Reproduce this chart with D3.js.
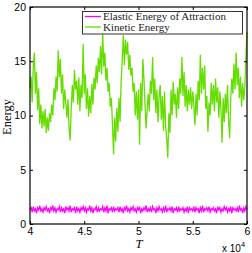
<!DOCTYPE html>
<html><head><meta charset="utf-8">
<script src="https://cdn.jsdelivr.net/npm/d3@7"></script>
<style>body{margin:0;background:#fff}svg{display:block}</style>
</head><body>
<svg id="c" width="252" height="253"></svg>
<script>
const tStart = 40000, tStep = 100;
const xTicks = [40000, 45000, 50000, 55000, 60000];
const xTickLabels = ["4", "4.5", "5", "5.5", "6"];
const yTicks = [0, 5, 10, 15, 20];
const seriesNames = ["Elastic Energy of Attraction", "Kinetic Energy"];
const kinetic = [
12.5,13.6,11.2,14.5,15.8,12.0,14.0,10.5,12.5,9.2,
11.0,8.8,10.4,9.0,10.6,8.4,9.8,8.6,10.2,9.4,
11.0,10.0,12.5,11.4,13.6,12.2,16.0,13.5,15.2,12.0,
13.8,10.6,12.4,11.2,9.8,11.5,8.9,7.7,10.6,12.8,
11.2,14.2,12.4,13.2,11.0,13.5,10.4,12.8,11.6,16.6,
12.0,13.8,10.6,12.5,9.9,11.8,10.2,12.9,11.0,13.5,
12.4,14.6,13.0,15.3,14.0,16.4,13.8,17.6,14.5,15.8,
13.2,14.4,12.2,13.0,10.8,11.6,9.2,6.4,9.8,7.6,
10.7,8.5,11.6,9.4,13.2,15.0,17.4,14.6,17.0,15.6,
16.8,14.2,15.6,13.7,14.4,12.2,13.0,10.0,12.2,9.6,
12.4,7.3,13.0,10.4,15.2,13.4,11.0,8.8,10.6,12.0,
10.4,13.2,12.0,15.4,11.4,13.4,10.2,12.4,9.4,11.8,
12.8,9.6,11.8,8.6,12.2,9.0,7.8,6.1,10.2,8.4,
12.4,10.0,13.1,11.0,12.0,9.8,12.6,10.6,13.4,12.0,
15.4,11.8,14.0,10.8,12.8,10.4,12.4,11.0,12.6,10.6,
12.2,11.0,9.1,12.0,10.0,13.2,11.4,15.6,12.0,14.4,
12.4,14.6,10.6,11.8,8.5,11.2,10.0,13.0,11.0,12.8,
10.4,13.4,11.2,12.6,9.8,12.2,10.6,7.5,11.6,9.4,
12.0,10.2,12.8,9.6,7.9,11.6,13.4,12.0,14.8,12.4,
15.8,12.8,14.4,11.6,13.6,10.8,13.0,11.4,12.6,15.4,17.7];
const elastic = [
1.3,1.5,1.1,1.6,1.2,1.4,1.0,1.5,1.3,1.7,
1.2,1.4,1.1,1.5,1.3,1.6,1.2,1.4,1.0,1.5,
1.3,1.7,1.2,1.5,1.1,1.4,1.3,1.6,1.1,1.5,
1.2,1.4,1.0,1.6,1.3,1.5,1.2,1.7,1.1,1.4,
1.3,1.5,1.0,1.6,1.2,1.4,1.1,1.5,1.3,1.6,
1.2,1.5,1.1,1.4,1.3,1.7,1.2,1.5,1.0,1.4,
1.3,1.6,1.1,1.5,1.2,1.4,1.3,1.6,1.1,1.5,
1.2,1.7,1.0,1.4,1.3,1.5,1.1,1.6,1.2,1.4,
1.3,1.5,1.1,1.6,1.2,1.4,1.0,1.5,1.3,1.7,
1.2,1.4,1.1,1.5,1.3,1.6,1.2,1.4,1.1,1.5,
1.3,1.6,1.0,1.4,1.2,1.5,1.3,1.7,1.1,1.4,
1.2,1.5,1.1,1.6,1.3,1.4,1.0,1.5,1.2,1.6,
1.3,1.4,1.1,1.5,1.2,1.7,1.1,1.4,1.3,1.5,
1.2,1.6,1.0,1.4,1.3,1.5,1.1,1.6,1.2,1.4,
1.3,1.5,1.1,1.4,1.2,1.6,1.0,1.5,1.3,1.4,
1.2,1.6,1.1,1.5,1.3,1.4,1.0,1.5,1.2,1.7,
1.1,1.4,1.3,1.5,1.2,1.6,1.1,1.4,1.3,1.5,
1.2,1.4,1.0,1.6,1.3,1.5,1.1,1.4,1.2,1.6,
1.3,1.5,1.1,1.4,1.2,1.6,1.0,1.5,1.3,1.4,
1.2,1.5,1.1,1.7,1.3,1.4,1.0,1.5,1.2,1.6,
1.3];
const colors = ["#ff00ff", "#66dd00"];

const svg = d3.select("#c");
const L = 30, R = 247, T = 7, B = 224;
const x = d3.scaleLinear().domain([40000, 60000]).range([L, R]);
const y = d3.scaleLinear().domain([0, 20]).range([B, T]);
const line = d3.line().x((d, i) => x(tStart + i * tStep)).y(d => y(d));

const sans = "Liberation Sans, Arial, sans-serif";
const serif = "Liberation Serif, Times New Roman, serif";

svg.append("path").datum(kinetic).attr("d", line).attr("fill", "none")
  .attr("stroke", colors[1]).attr("stroke-width", 1.3).attr("stroke-linejoin", "miter");
svg.append("path").datum(elastic).attr("d", line).attr("fill", "none")
  .attr("stroke", colors[0]).attr("stroke-width", 1.3);

// axes
const tl = 3;
const axB = svg.append("g").attr("transform", `translate(0,${B})`)
  .call(d3.axisBottom(x).tickValues(xTicks).tickSize(-tl).tickPadding(4).tickFormat((d, i) => xTickLabels[i]));
const axT = svg.append("g").attr("transform", `translate(0,${T})`)
  .call(d3.axisTop(x).tickValues(xTicks).tickSize(-tl).tickFormat(""));
const axLft = svg.append("g").attr("transform", `translate(${L},0)`)
  .call(d3.axisLeft(y).tickValues(yTicks).tickSize(-tl).tickPadding(4));
const axRt = svg.append("g").attr("transform", `translate(${R},0)`)
  .call(d3.axisRight(y).tickValues(yTicks).tickSize(-tl).tickFormat(""));
[axB, axT, axLft, axRt].forEach(a => {
  a.select(".domain").remove();
  a.selectAll("line").attr("stroke", "#000");
  a.selectAll("text").attr("font-family", sans).attr("font-size", 10.5).attr("fill", "#000");
});
svg.append("rect").attr("x", L).attr("y", T).attr("width", R - L).attr("height", B - T)
  .attr("fill", "none").attr("stroke", "#000").attr("stroke-width", 1.2);

// labels
svg.append("text").attr("transform", "translate(11,117) rotate(-90)").attr("text-anchor", "middle")
  .attr("font-family", serif).attr("font-size", 12.5).text("Energy");
svg.append("text").attr("x", 139).attr("y", 247.5).attr("text-anchor", "middle")
  .attr("font-family", serif).attr("font-style", "italic").attr("font-size", 12.5).text("T");
const ex = svg.append("text").attr("x", 222).attr("y", 252).attr("font-family", sans).attr("font-size", 10);
ex.append("tspan").text("x 10");
ex.append("tspan").attr("dy", -5).attr("font-size", 7.5).text("4");

// legend
const lg = svg.append("g");
lg.append("rect").attr("x", 82.5).attr("y", 11.5).attr("width", 160).attr("height", 22.5)
  .attr("fill", "#fff").attr("stroke", "#333").attr("stroke-width", 1);
seriesNames.forEach((n, i) => {
  const yy = 16.5 + i * 10.5;
  lg.append("line").attr("x1", 85).attr("x2", 101).attr("y1", yy).attr("y2", yy)
    .attr("stroke", colors[i]).attr("stroke-width", 1.3);
  lg.append("text").attr("x", 103).attr("y", yy + 3.5).attr("font-family", serif)
    .attr("font-size", 11).attr("fill", "#222").text(n);
});
</script>
</body></html>
